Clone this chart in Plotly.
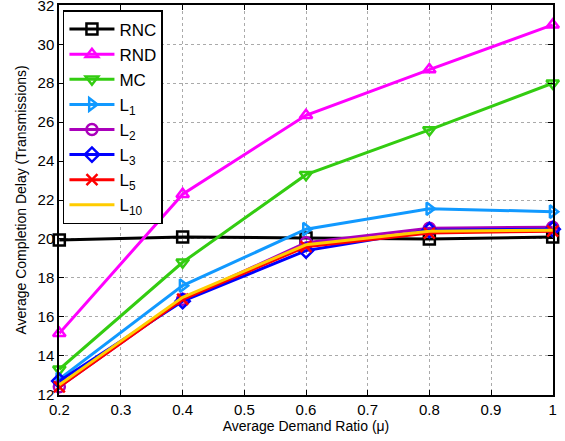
import plotly.graph_objects as go

x = [0.2, 0.4, 0.6, 0.8, 1.0]
rnc = [19.95, 20.1, 20.05, 20.0, 20.1]
rnd = [15.15, 22.3, 26.35, 28.7, 31.0]
mc = [13.3, 18.8, 23.3, 25.6, 28.0]
l1 = [12.8, 17.6, 20.5, 21.55, 21.4]
l2 = [12.4, 16.9, 19.8, 20.55, 20.6]
l3 = [12.7, 16.8, 19.4, 20.45, 20.5]
l5 = [12.4, 16.9, 19.6, 20.3, 20.4]
l10 = [12.5, 17.0, 19.7, 20.4, 20.45]

x_ticks = [0.2, 0.3, 0.4, 0.5, 0.6, 0.7, 0.8, 0.9, 1.0]
x_ticklabels = ["0.2", "0.3", "0.4", "0.5", "0.6", "0.7", "0.8", "0.9", "1"]
y_ticks = [12, 14, 16, 18, 20, 22, 24, 26, 28, 30, 32]

names = ["RNC", "RND", "MC", "L<sub>1</sub>", "L<sub>2</sub>", "L<sub>3</sub>", "L<sub>5</sub>", "L<sub>10</sub>"]
series = [rnc, rnd, mc, l1, l2, l3, l5, l10]
colors = ["#000000", "#ff00ff", "#33cc11", "#1199ff", "#aa00bb", "#0000ff", "#ff0000", "#ffcc00"]
symbols = ["square-open", "triangle-up-open", "triangle-down-open", "triangle-right-open",
           "circle-open", "diamond-open", "x-thin", None]

FONT = "Liberation Sans, Arial, sans-serif"

fig = go.Figure()
for n, s, c, sym in zip(names, series, colors, symbols):
    if sym is None:
        fig.add_trace(go.Scatter(x=x, y=s, name=n, mode="lines", line=dict(color=c, width=3),
                                 cliponaxis=False))
    else:
        fig.add_trace(go.Scatter(x=x, y=s, name=n, mode="lines+markers",
                                 line=dict(color=c, width=3), cliponaxis=False,
                                 marker=dict(symbol=sym, size=11, color=c,
                                             line=dict(color=c, width=2.5))))

axis_common = dict(showline=True, linecolor="black", linewidth=1.5, mirror="ticks",
                   ticks="inside", ticklen=5, tickcolor="black",
                   showgrid=True, gridcolor="#aaaaaa", griddash="dot", gridwidth=1,
                   zeroline=False, automargin=False, ticklabeloverflow="allow",
                   tickfont=dict(family=FONT, size=15, color="black"))

fig.update_layout(
    width=565, height=441,
    margin=dict(l=59, r=12, t=5, b=46),
    paper_bgcolor="white", plot_bgcolor="white",
    font=dict(family=FONT, color="black"),
    xaxis=dict(range=[0.1995, 1.0005], tickvals=x_ticks, ticktext=x_ticklabels,
               title=dict(text="Average Demand Ratio (μ)", font=dict(family=FONT, size=14), standoff=2),
               **axis_common),
    yaxis=dict(range=[11.98, 32.02], tickvals=y_ticks,
               title=dict(text="Average Completion Delay (Transmissions)", font=dict(family=FONT, size=14), standoff=8),
               **axis_common),
    legend=dict(x=0.008, y=0.987, xanchor="left", yanchor="top",
                bgcolor="white", bordercolor="black", borderwidth=1.5,
                font=dict(family=FONT, size=17, color="black"),
                tracegroupgap=0, itemwidth=45),
    showlegend=True,
)

fig.write_html("out.html", config={"displayModeBar": False},
               post_script="document.body.style.margin='0px';")
